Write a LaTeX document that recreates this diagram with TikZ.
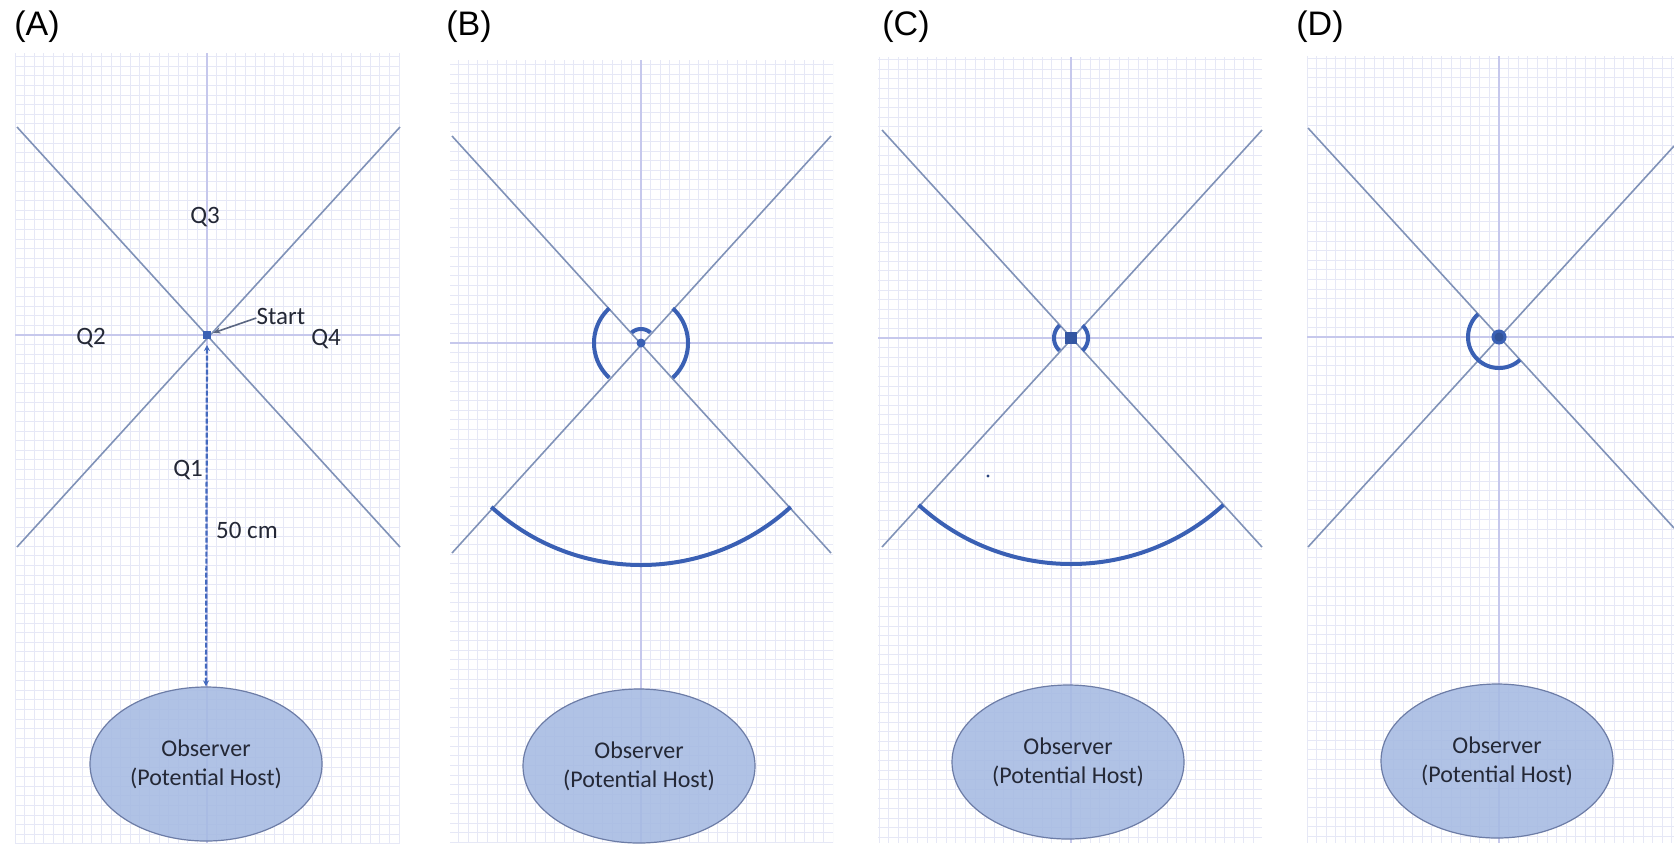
\documentclass[tikz,border=0pt]{standalone}
\usepackage{fontspec}
\setmainfont{Carlito}
\newfontfamily\arialf{Liberation Sans}
\usetikzlibrary{shapes.geometric,arrows.meta}

\definecolor{gridc}{RGB}{230,232,246}
\definecolor{axisc}{RGB}{198,200,236}
\definecolor{diagc}{RGB}{128,146,184}
\definecolor{arcc}{RGB}{58,96,180}
\definecolor{dashc}{RGB}{68,106,190}
\definecolor{ellfill}{RGB}{166,186,226}
\definecolor{elldraw}{RGB}{108,124,166}
\definecolor{txtc}{RGB}{36,40,54}

\tikzset{
  gridline/.style={gridc, line width=0.45pt},
  axisline/.style={axisc, line width=0.6pt},
  diagline/.style={diagc, line width=0.8pt},
  sweep/.style={arcc, line width=2pt},
  observer/.style={ellipse, draw=elldraw, line width=0.6pt, fill=ellfill,
    fill opacity=0.88, text opacity=1, minimum width=116pt, minimum height=77pt,
    inner sep=0pt, align=center, font=\fontsize{12}{14.5}\selectfont, text=txtc},
  lbl/.style={font=\fontsize{12.5}{14}\selectfont, text=txtc, inner sep=0pt},
  panellbl/.style={font=\arialf\fontsize{17}{20}\selectfont, text=black, inner sep=0pt},
}

\newcommand{\panelgrid}[6]{%
  \begin{scope}
    \clip (#1,#2) rectangle (#3,#4);
    \foreach \k in {-60,...,60} {
      \draw[gridline] ({#5+\k*9.6},#2) -- ({#5+\k*9.6},#4);
      \draw[gridline] (#1,{#6+\k*9.6}) -- (#3,{#6+\k*9.6});
    }
    \draw[axisline] (#5,#2) -- (#5,#4);
    \draw[axisline] (#1,#6) -- (#3,#6);
  \end{scope}}

\newcommand{\sweeparc}[4]{%
  \draw[sweep, shift={(#1)}] plot[domain=#3:#4, samples=60, smooth]
    ({#2*cos(\x)}, {#2*sin(\x)});}

\begin{document}
\begin{tikzpicture}[x=0.5pt,y=-0.5pt]
\useasboundingbox (0,0) rectangle (1674,843);
\fill[white] (0,0) rectangle (1674,843);

% grids
\panelgrid{15}{53}{400}{843}{207}{335}
\panelgrid{450}{60}{833}{843}{641}{343}
\panelgrid{878}{57}{1262}{843}{1071}{338}
\panelgrid{1307}{56}{1674}{843}{1499}{337}

% centres
\coordinate (cA) at (207,335);
\coordinate (cB) at (641,343);
\coordinate (cC) at (1071,338);
\coordinate (cD) at (1499,337);

% panel labels
\node[panellbl] (labA) at (37,27) {(A)};
\node[panellbl] (labB) at (469,27) {(B)};
\node[panellbl] (labC) at (906,27) {(C)};
\node[panellbl] (labD) at (1320,27) {(D)};

% observers
\node[observer] (obsA) at (206,764) {Observer\\(Potential Host)};
\node[observer] (obsB) at (639,766) {Observer\\(Potential Host)};
\node[observer] (obsC) at (1068,762) {Observer\\(Potential Host)};
\node[observer] (obsD) at (1497,761) {Observer\\(Potential Host)};

% diagonals A
\coordinate (aTL) at (17,127);  \coordinate (aBR) at (400,547);
\coordinate (aTR) at (400,127); \coordinate (aBL) at (17,547);
\draw[diagline] (aTL) -- (aBR);
\draw[diagline] (aTR) -- (aBL);
% diagonals B
\coordinate (bTL) at (452,136); \coordinate (bBR) at (831,553);
\coordinate (bTR) at (831,136); \coordinate (bBL) at (452,553);
\draw[diagline] (bTL) -- (bBR);
\draw[diagline] (bTR) -- (bBL);
% diagonals C
\coordinate (cTL) at (882,130);  \coordinate (cBR) at (1262,547);
\coordinate (cTR) at (1262,130); \coordinate (cBL) at (882,547);
\draw[diagline] (cTL) -- (cBR);
\draw[diagline] (cTR) -- (cBL);
% diagonals D
\coordinate (dTL) at (1308,128); \coordinate (dBR) at (1674,528);
\coordinate (dTR) at (1674,146); \coordinate (dBL) at (1308,547);
\draw[diagline] (dTL) -- (dBR);
\draw[diagline] (dTR) -- (dBL);

% panel A details
\node[lbl] (q3) at (205,217) {Q3};
\node[lbl] (q2) at (91,338) {Q2};
\node[lbl] (q4) at (326,339) {Q4};
\node[lbl] (q1) at (188,470) {Q1};
\node[lbl] (dist) at (247,530) {50 cm};
\node[lbl] (start) at (281,316) {Start};
\fill[arcc] (cA) +(-4,-4) rectangle +(4,4);
\draw[diagc!70!black, line width=0.8pt, -{Stealth[length=4pt,width=3pt]}, shorten >=3pt]
  ([yshift=-1pt]start.west) -- (cA);
\draw[dashc, line width=1.1pt, dash pattern=on 2.5pt off 1pt,
  {Stealth[length=3pt,width=3pt]}-{Stealth[length=3pt,width=3pt]}]
  ([yshift=-5pt]cA) -- (obsA.north);

% panel B arcs
\fill[arcc] (cB) circle[radius=4.5];
\sweeparc{cB}{14}{227.6}{312.4}
\sweeparc{cB}{47}{132.4}{227.6}
\sweeparc{cB}{47}{-47.6}{47.6}
\sweeparc{cB}{222}{47.6}{132.4}

% panel C arcs
\fill[arcc!90!black] (cC) +(-6,-6) rectangle +(6,6);
\sweeparc{cC}{17}{132.4}{227.6}
\sweeparc{cC}{17}{-47.6}{47.6}
\sweeparc{cC}{226}{47.6}{132.4}
\fill[arcc!70!black] (988,476) circle[radius=1.6];

% panel D arcs
\filldraw[arcc, fill=arcc!85!black, line width=1.5pt] (cD) circle[radius=6];
\sweeparc{cD}{31}{47.6}{227.6}

\end{tikzpicture}
\end{document}
